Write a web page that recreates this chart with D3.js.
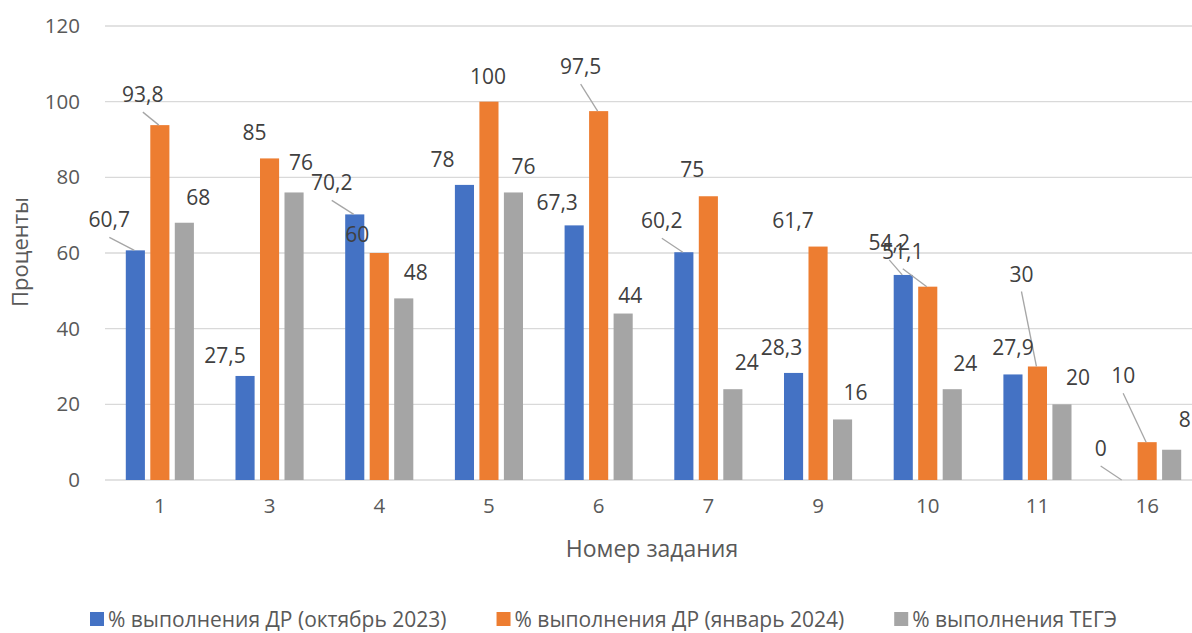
<!DOCTYPE html>
<html>
<head>
<meta charset="utf-8">
<script src="https://cdn.jsdelivr.net/npm/d3@7"></script>
<style>
  body { margin: 0; background: #fff; }
  text { font-family: "Open Sans", sans-serif; }
</style>
</head>
<body>
<script>
// данные с диаграммы
const categories = ["1", "3", "4", "5", "6", "7", "9", "10", "11", "16"];
const seriesNames = [
  "% выполнения ДР (октябрь 2023)",
  "% выполнения ДР (январь 2024)",
  "% выполнения ТЕГЭ"
];
const octValues = [60.7, 27.5, 70.2, 78, 67.3, 60.2, 28.3, 54.2, 27.9, 0];
const janValues = [93.8, 85, 60, 100, 97.5, 75, 61.7, 51.1, 30, 10];
const tegeValues = [68, 76, 48, 76, 44, 24, 16, 24, 20, 8];
const yTicks = [0, 20, 40, 60, 80, 100, 120];
const colors = ["#4472C4", "#ED7D31", "#A5A5A5"];

// смещения подписей относительно вершины столбца [dx, dy, выноска]
const labelOffsets = [
  [[-26,-23,1],[-20,-13,0],[-23,-24,1],[-22,-18,0],[-17,-15,0],[-22,-24,1],[-12,-18,0],[-14,-25,1],[0,-19,0],[-22,-24,1]],
  [[-17,-23,1],[-15,-18,0],[-22,-11,0],[-1,-18,0],[-18,-37,1],[-16,-19,0],[-25,-19,0],[-25,-28,1],[-16,-85,1],[-24,-59,1]],
  [[14,-18,0],[7,-22,0],[12,-18,0],[10,-18,0],[7,-11,0],[14,-19,0],[13,-19,0],[13,-18,0],[16,-19,0],[13,-23,0]]
];

const values = [octValues, janValues, tegeValues];
const width = 1192, height = 633;

let svg = d3.select("body").append("svg")
  .attr("width", width)
  .attr("height", height);

//шкалы
let x = d3.scaleBand()
  .domain(categories)
  .range([105, 1202])
  .paddingInner(0.33)
  .paddingOuter(0.165);

let xs = d3.scaleBand()
  .domain([0, 1, 2])
  .range([0, x.bandwidth()])
  .paddingInner(0.22)
  .paddingOuter(0.11);

let y = d3.scaleLinear()
  .domain([0, 120])
  .range([480, 26]);

//сетка
svg.append("g")
  .selectAll("line")
  .data(yTicks)
  .join("line")
  .attr("x1", 105).attr("x2", 1202)
  .attr("y1", d => y(d)).attr("y2", d => y(d))
  .attr("stroke", "#d9d9d9")
  .attr("stroke-width", 1.3);

//подписи оси Y
let yAxis = svg.append("g")
  .attr("transform", "translate(80,0)")
  .call(d3.axisLeft(y).tickValues(yTicks).tickSize(0).tickPadding(0));
yAxis.select(".domain").remove();
yAxis.selectAll("text")
  .attr("font-size", 20.5)
  .attr("fill", "#595959")
  .attr("font-family", "Open Sans");

//подписи оси X
let xAxis = svg.append("g")
  .attr("transform", "translate(0,480)")
  .call(d3.axisBottom(x).tickSize(0).tickPadding(18));
xAxis.select(".domain").remove();
xAxis.selectAll("text")
  .attr("font-size", 20.5)
  .attr("fill", "#595959")
  .attr("font-family", "Open Sans");

//столбцы
let groups = svg.append("g")
  .selectAll("g")
  .data(values)
  .join("g")
  .attr("fill", (d, s) => colors[s]);

groups.selectAll("rect")
  .data((d, s) => d.map((v, i) => ({v: v, i: i, s: s})))
  .join("rect")
  .attr("x", d => x(categories[d.i]) + xs(d.s))
  .attr("width", xs.bandwidth())
  .attr("y", d => y(d.v))
  .attr("height", d => y(0) - y(d.v));

//подписи данных
let labels = [];
values.forEach((arr, s) => arr.forEach((v, i) => {
  let cx = x(categories[i]) + xs(s) + xs.bandwidth() / 2;
  let off = labelOffsets[s][i];
  labels.push({v: v, cx: cx, top: y(v), lx: cx + off[0], ly: y(v) + off[1], leader: off[2]});
}));

svg.append("g")
  .selectAll("line")
  .data(labels.filter(d => d.leader))
  .join("line")
  .attr("x1", d => d.lx).attr("y1", d => d.ly + 10)
  .attr("x2", d => d.cx - 1).attr("y2", d => d.top)
  .attr("stroke", "#a6a6a6")
  .attr("stroke-width", 1.3);

svg.append("g")
  .selectAll("text")
  .data(labels)
  .join("text")
  .attr("x", d => d.lx)
  .attr("y", d => d.ly)
  .attr("text-anchor", "middle")
  .attr("font-size", 21)
  .attr("fill", "#404040")
  .text(d => String(d.v).replace(".", ","));

//названия осей
svg.append("text")
  .attr("x", 652).attr("y", 557)
  .attr("text-anchor", "middle")
  .attr("font-size", 23)
  .attr("fill", "#595959")
  .text("Номер задания");

svg.append("text")
  .attr("transform", "translate(28,252) rotate(-90)")
  .attr("text-anchor", "middle")
  .attr("font-size", 22)
  .attr("fill", "#595959")
  .text("Проценты");

//легенда
let lx = 90;
seriesNames.forEach((name, s) => {
  svg.append("rect")
    .attr("x", lx).attr("y", 612)
    .attr("width", 14).attr("height", 14)
    .attr("fill", colors[s]);
  let t = svg.append("text")
    .attr("x", lx + 18).attr("y", 627)
    .attr("font-size", 21)
    .attr("fill", "#595959")
    .text(name);
  lx += 18 + t.node().getComputedTextLength() + 50;
});
</script>
</body>
</html>
